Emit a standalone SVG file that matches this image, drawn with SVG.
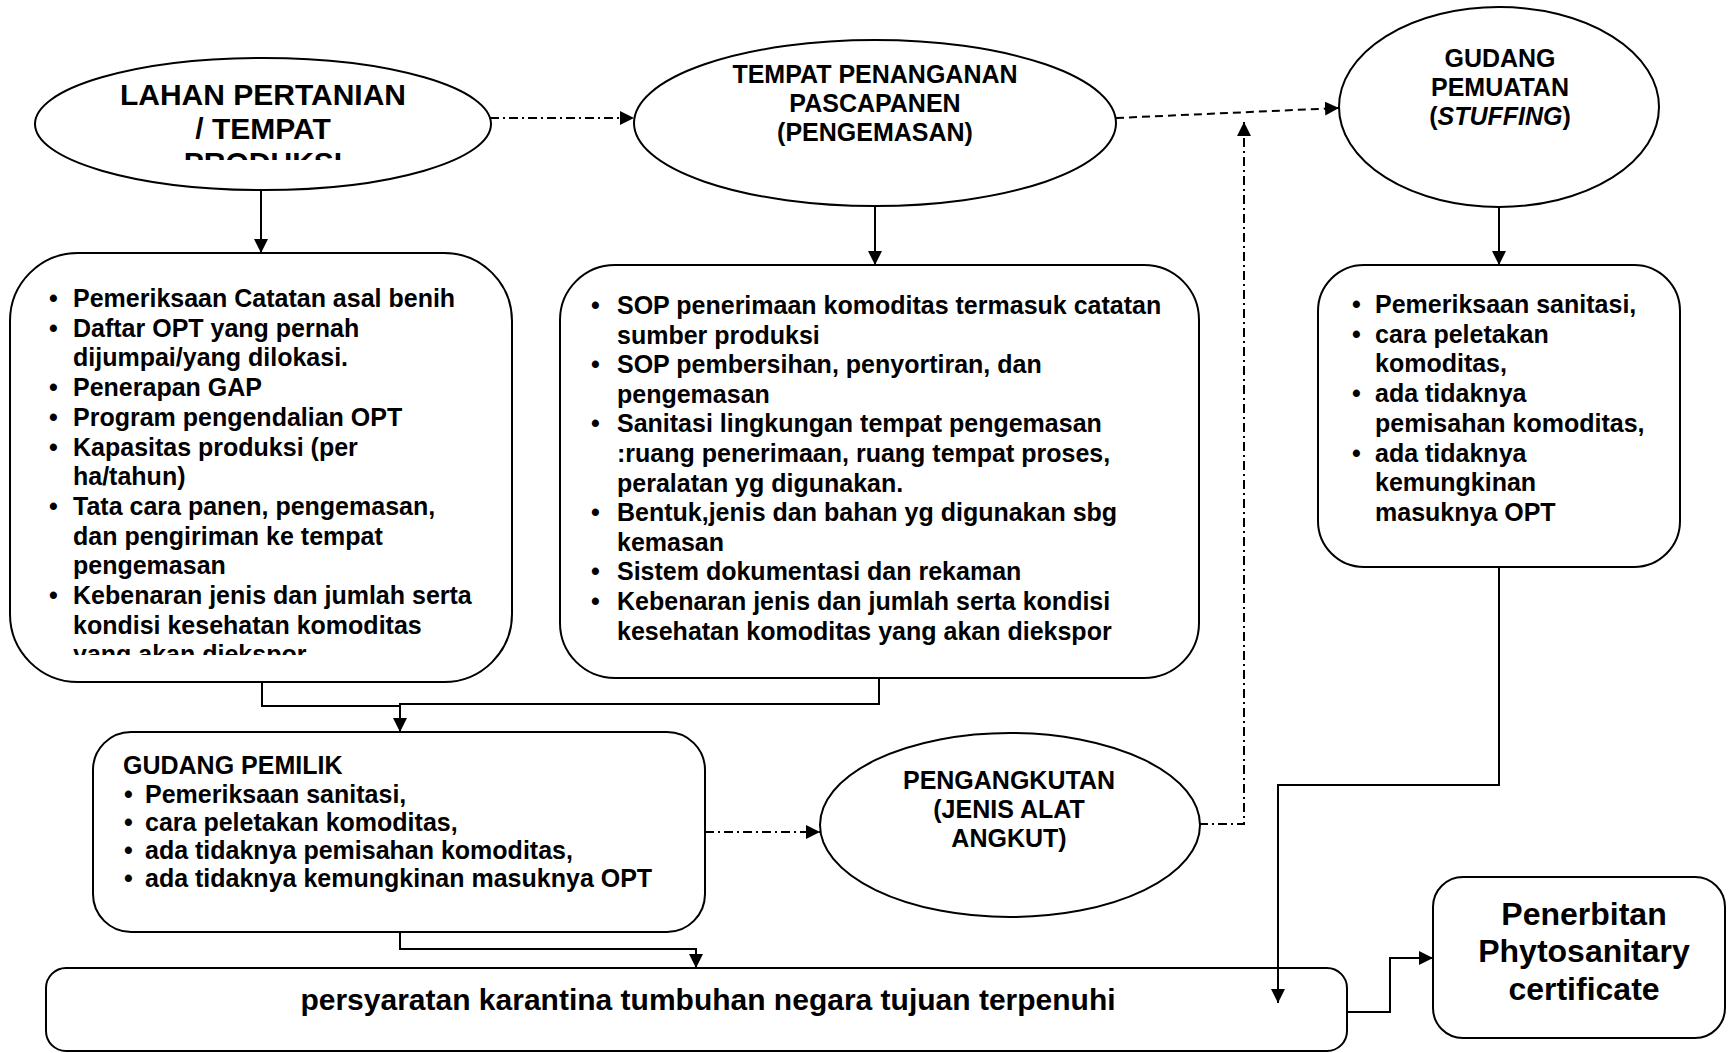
<svg xmlns="http://www.w3.org/2000/svg" width="1728" height="1053" viewBox="0 0 1728 1053">
<style>
.s{fill:#fff;stroke:#000;stroke-width:2}
.t{font-family:"Liberation Sans",Arial,sans-serif;font-weight:bold;fill:#000}
.c{fill:none;stroke:#000;stroke-width:2}
.dd{stroke-dasharray:9,4,2,4}
.da{stroke-dasharray:8,5}
</style>
<defs>
<marker id="ah" markerUnits="userSpaceOnUse" markerWidth="14" markerHeight="14" viewBox="0 0 14 14" refX="14" refY="7" orient="auto">
<path d="M0,0 L14,7 L0,14 z" fill="#000"/>
</marker>
<clipPath id="clipE1"><rect x="0" y="0" width="700" height="160"/></clipPath>
<clipPath id="clipB1"><rect x="0" y="250" width="600" height="405"/></clipPath>
</defs>
<rect width="1728" height="1053" fill="#fff"/>

<g id="lahan">
<ellipse class="s" cx="263" cy="124" rx="228" ry="66"/>
<g clip-path="url(#clipE1)">
<text class="t" font-size="30" text-anchor="middle"><tspan x="263" y="105">LAHAN PERTANIAN</tspan><tspan x="263" y="139">/ TEMPAT</tspan><tspan x="263" y="173">PRODUKSI</tspan></text>
</g>
</g>

<g id="tempat">
<ellipse class="s" cx="875" cy="123" rx="241" ry="83"/>
<text class="t" font-size="25" text-anchor="middle"><tspan x="875" y="83">TEMPAT PENANGANAN</tspan><tspan x="875" y="112">PASCAPANEN</tspan><tspan x="875" y="141">(PENGEMASAN)</tspan></text>
</g>

<g id="gudang-pemuatan">
<ellipse class="s" cx="1499" cy="107" rx="160" ry="100"/>
<text class="t" font-size="25" text-anchor="middle"><tspan x="1500" y="67">GUDANG</tspan><tspan x="1500" y="96">PEMUATAN</tspan><tspan x="1500" y="125">(<tspan font-style="italic">STUFFING</tspan>)</tspan></text>
</g>

<g id="box-lahan">
<rect class="s" x="10" y="253" width="502" height="429" rx="68" ry="68"/>
<g clip-path="url(#clipB1)">
<text class="t" font-size="25">
<tspan x="49" y="307">•</tspan><tspan x="73" y="307">Pemeriksaan Catatan asal benih</tspan>
<tspan x="49" y="336.7">•</tspan><tspan x="73" y="336.7">Daftar OPT yang pernah</tspan>
<tspan x="73" y="366.4">dijumpai/yang dilokasi.</tspan>
<tspan x="49" y="396.1">•</tspan><tspan x="73" y="396.1">Penerapan GAP</tspan>
<tspan x="49" y="425.8">•</tspan><tspan x="73" y="425.8">Program pengendalian OPT</tspan>
<tspan x="49" y="455.5">•</tspan><tspan x="73" y="455.5">Kapasitas produksi (per</tspan>
<tspan x="73" y="485.2">ha/tahun)</tspan>
<tspan x="49" y="514.9">•</tspan><tspan x="73" y="514.9">Tata cara panen, pengemasan,</tspan>
<tspan x="73" y="544.6">dan pengiriman ke tempat</tspan>
<tspan x="73" y="574.3">pengemasan</tspan>
<tspan x="49" y="604">•</tspan><tspan x="73" y="604">Kebenaran jenis dan jumlah serta</tspan>
<tspan x="73" y="633.7">kondisi kesehatan komoditas</tspan>
<tspan x="73" y="663.4">yang akan diekspor</tspan>
</text>
</g>
</g>

<g id="box-tempat">
<rect class="s" x="560" y="265" width="639" height="413" rx="55" ry="55"/>
<text class="t" font-size="25">
<tspan x="591" y="314">•</tspan><tspan x="617" y="314">SOP penerimaan komoditas termasuk catatan</tspan>
<tspan x="617" y="343.6">sumber produksi</tspan>
<tspan x="591" y="373.2">•</tspan><tspan x="617" y="373.2">SOP pembersihan, penyortiran, dan</tspan>
<tspan x="617" y="402.8">pengemasan</tspan>
<tspan x="591" y="432.4">•</tspan><tspan x="617" y="432.4">Sanitasi lingkungan tempat pengemasan</tspan>
<tspan x="617" y="462">:ruang penerimaan, ruang tempat proses,</tspan>
<tspan x="617" y="491.6">peralatan yg digunakan.</tspan>
<tspan x="591" y="521.2">•</tspan><tspan x="617" y="521.2">Bentuk,jenis dan bahan yg digunakan sbg</tspan>
<tspan x="617" y="550.8">kemasan</tspan>
<tspan x="591" y="580.4">•</tspan><tspan x="617" y="580.4">Sistem dokumentasi dan rekaman</tspan>
<tspan x="591" y="610">•</tspan><tspan x="617" y="610">Kebenaran jenis dan jumlah serta kondisi</tspan>
<tspan x="617" y="639.6">kesehatan komoditas yang akan diekspor</tspan>
</text>
</g>

<g id="box-pemuatan">
<rect class="s" x="1318" y="265" width="362" height="302" rx="46" ry="46"/>
<text class="t" font-size="25">
<tspan x="1352" y="313">•</tspan><tspan x="1375" y="313">Pemeriksaan sanitasi,</tspan>
<tspan x="1352" y="342.7">•</tspan><tspan x="1375" y="342.7">cara peletakan</tspan>
<tspan x="1375" y="372.4">komoditas,</tspan>
<tspan x="1352" y="402.1">•</tspan><tspan x="1375" y="402.1">ada tidaknya</tspan>
<tspan x="1375" y="431.8">pemisahan komoditas,</tspan>
<tspan x="1352" y="461.5">•</tspan><tspan x="1375" y="461.5">ada tidaknya</tspan>
<tspan x="1375" y="491.2">kemungkinan</tspan>
<tspan x="1375" y="520.9">masuknya OPT</tspan>
</text>
</g>

<g id="gudang-pemilik">
<rect class="s" x="93" y="732" width="612" height="200" rx="38" ry="38"/>
<text class="t" font-size="25">
<tspan x="123" y="774">GUDANG PEMILIK</tspan>
<tspan x="124" y="803">•</tspan><tspan x="145" y="803">Pemeriksaan sanitasi,</tspan>
<tspan x="124" y="831">•</tspan><tspan x="145" y="831">cara peletakan komoditas,</tspan>
<tspan x="124" y="859">•</tspan><tspan x="145" y="859">ada tidaknya pemisahan komoditas,</tspan>
<tspan x="124" y="887">•</tspan><tspan x="145" y="887">ada tidaknya kemungkinan masuknya OPT</tspan>
</text>
</g>

<g id="pengangkutan">
<ellipse class="s" cx="1010" cy="825" rx="190" ry="92"/>
<text class="t" font-size="25" text-anchor="middle"><tspan x="1009" y="789">PENGANGKUTAN</tspan><tspan x="1009" y="818">(JENIS ALAT</tspan><tspan x="1009" y="847">ANGKUT)</tspan></text>
</g>

<g id="persyaratan">
<rect class="s" x="46" y="968" width="1301" height="83" rx="20" ry="20"/>
<text class="t" font-size="30" text-anchor="middle" x="708" y="1010">persyaratan karantina tumbuhan negara tujuan terpenuhi</text>
</g>

<g id="penerbitan">
<rect class="s" x="1433" y="877" width="292" height="161" rx="30" ry="30"/>
<text class="t" font-size="32" text-anchor="middle"><tspan x="1584" y="925">Penerbitan</tspan><tspan x="1584" y="962">Phytosanitary</tspan><tspan x="1584" y="1000">certificate</tspan></text>
</g>

<g id="connectors">
<path class="c dd" d="M490,118 L634,118" marker-end="url(#ah)"/>
<path class="c da" d="M1116,118 L1339,108" marker-end="url(#ah)"/>
<path class="c" d="M261,190 L261,253" marker-end="url(#ah)"/>
<path class="c" d="M875,206 L875,265" marker-end="url(#ah)"/>
<path class="c" d="M1499,207 L1499,265" marker-end="url(#ah)"/>
<path class="c" d="M262,682 L262,706 L400,706"/>
<path class="c" d="M879,678 L879,704 L400,704 L400,732" marker-end="url(#ah)"/>
<path class="c dd" d="M705,832 L820,832" marker-end="url(#ah)"/>
<path class="c dd" d="M1199,824 L1244,824 L1244,122" marker-end="url(#ah)"/>
<path class="c" d="M400,932 L400,949 L696,949 L696,968" marker-end="url(#ah)"/>
<path class="c" d="M1499,567 L1499,785 L1278,785 L1278,1003" marker-end="url(#ah)"/>
<path class="c" d="M1347,1012 L1390,1012 L1390,958 L1433,958" marker-end="url(#ah)"/>
</g>
</svg>
